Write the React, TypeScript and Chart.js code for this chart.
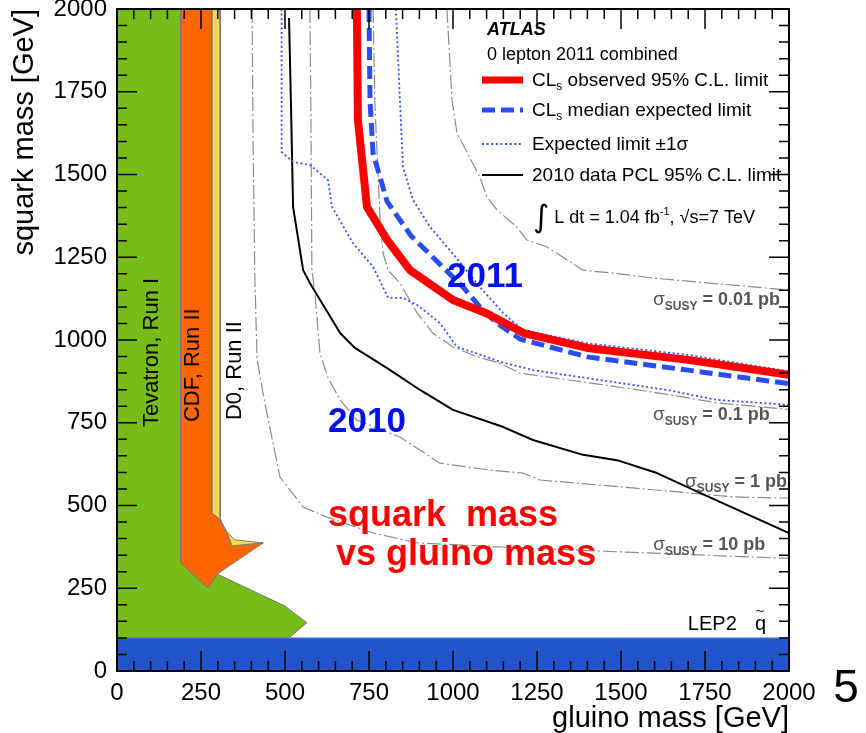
import { useEffect, useRef } from 'react';
import { Chart, registerables } from 'chart.js';

Chart.register(...registerables);

const SANS = '"Liberation Sans", Arial, Helvetica, sans-serif';

// Mass axes (GeV)
const massMin = 0;
const massMax = 2000;
const majorStep = 250;
const minorStep = 50;

// 2011 CLs observed 95% C.L. limit
const observedGluino = [714, 717, 744, 804, 872, 1000, 1101, 1210, 1400, 1700, 2000];
const observedSquark = [2000, 1665, 1402, 1302, 1211, 1121, 1080, 1021, 976, 940, 895];

// 2011 CLs median expected limit
const expectedGluino = [750, 753, 762, 804, 875, 955, 1030, 1080, 1131, 1199, 1400, 1700, 2000];
const expectedSquark = [2000, 1725, 1565, 1418, 1315, 1235, 1160, 1100, 1051, 1003, 949, 909, 868];

// Expected limit +1 sigma
const plusSigmaGluino = [830, 842, 851, 881, 932, 1015, 1080, 1149, 1208, 1400, 1700, 2000];
const plusSigmaSquark = [2000, 1725, 1523, 1423, 1341, 1242, 1160, 1082, 1030, 990, 955, 905];

// Expected limit -1 sigma
const minusSigmaGluino = [490, 490, 524, 574, 628, 640, 702, 762, 807, 851, 893, 961, 1012, 1101, 1140, 1238, 1438, 1637, 1786, 2000];
const minusSigmaSquark = [2000, 1568, 1538, 1529, 1483, 1402, 1293, 1221, 1127, 1127, 1106, 1051, 979, 949, 934, 909, 879, 849, 819, 804];

// 2010 data PCL 95% C.L. limit
const pcl2010Gluino = [512, 518, 524, 554, 574, 664, 708, 804, 902, 1000, 1150, 1238, 1387, 1488, 1607, 1735, 2000];
const pcl2010Squark = [1973, 1700, 1402, 1211, 1172, 1021, 976, 915, 849, 789, 737, 698, 653, 637, 598, 538, 417];

// SUSY cross-section contours
const xsec001Gluino = [982, 997, 1012, 1080, 1101, 1131, 1190, 1220, 1280, 1387, 1497, 1595, 2000];
const xsec001Squark = [2000, 1725, 1625, 1492, 1432, 1393, 1341, 1302, 1281, 1211, 1200, 1187, 1151];

const xsec01Gluino = [762, 768, 783, 792, 807, 842, 893, 940, 1000, 1070, 1140, 1199, 1438, 1637, 1786, 2000];
const xsec01Squark = [2000, 1700, 1363, 1262, 1211, 1172, 1082, 1021, 979, 950, 930, 900, 866, 836, 810, 790];

const xsec1Gluino = [574, 577, 580, 589, 604, 628, 664, 714, 842, 961, 1110, 1208, 1259, 1536, 1833, 2000];
const xsec1Squark = [2000, 1700, 1211, 1142, 961, 886, 819, 758, 707, 628, 607, 598, 577, 553, 526, 522];

const xsec10Gluino = [402, 405, 410, 417, 440, 485, 554, 625, 762, 893, 1200, 1595, 2000];
const xsec10Squark = [2000, 1600, 1200, 940, 810, 586, 495, 465, 417, 387, 372, 356, 340];

// Excluded regions from earlier experiments (polygon vertices)
const lepGluino = [0, 0, 2000, 2000];
const lepSquark = [0, 100, 100, 0];

const tevatronGluino = [0, 0, 190, 190, 271, 298, 500, 565, 512];
const tevatronSquark = [100, 2000, 2000, 326, 251, 293, 196, 146, 100];

const cdfGluino = [190, 283, 283, 306, 331, 342, 435, 298, 271, 190];
const cdfSquark = [2000, 2000, 477, 459, 411, 378, 387, 293, 251, 326];

const d0Gluino = [283, 307, 307, 316, 351, 435, 342, 331, 306, 283];
const d0Squark = [2000, 2000, 465, 432, 396, 387, 378, 411, 459, 477];

// Cross-section labels
const xsecLabels = ['0.01', '0.1', '1', '10'];

const pts = (xs: number[], ys: number[]) => xs.map((x, i) => ({ x, y: ys[i] }));
const closed = (xs: number[], ys: number[]) => {
  const p = pts(xs, ys);
  return [...p, p[0]];
};

const STYLE = {
  observed: { color: '#ff0000', width: 8, dash: [] as number[] },
  expected: { color: '#2b4cf0', width: 5, dash: [13, 6] },
  sigma: { color: '#3050ff', width: 1.8, dash: [2, 2.6] },
  pcl: { color: '#000000', width: 2, dash: [] as number[] },
  xsec: { color: '#8c8c8c', width: 1.2, dash: [14, 3, 2, 3] },
};

function lineSet(label: string, xs: number[], ys: number[], s: { color: string; width: number; dash: number[] }) {
  return {
    label,
    data: pts(xs, ys),
    borderColor: s.color,
    borderWidth: s.width,
    borderDash: s.dash,
    borderCapStyle: 'butt' as const,
    borderJoinStyle: 'round' as const,
    fill: false,
    pointRadius: 0,
    tension: 0,
    clip: 0,
  };
}

function regionSet(label: string, xs: number[], ys: number[], color: string, edge: string) {
  return {
    label,
    data: closed(xs, ys),
    borderColor: edge,
    borderWidth: 1,
    backgroundColor: color,
    fill: 'shape' as const,
    pointRadius: 0,
    tension: 0,
    clip: 0,
  };
}

type Run = { text: string; font: string; dy?: number; color?: string };

function drawRuns(ctx: CanvasRenderingContext2D, x: number, y: number, runs: Run[], align: 'left' | 'right', color: string) {
  ctx.textAlign = 'left';
  ctx.textBaseline = 'alphabetic';
  const widths = runs.map((r) => {
    ctx.font = r.font;
    return ctx.measureText(r.text).width;
  });
  const total = widths.reduce((a, b) => a + b, 0);
  let cx = align === 'right' ? x - total : x;
  runs.forEach((r, i) => {
    ctx.font = r.font;
    ctx.fillStyle = r.color ?? color;
    ctx.fillText(r.text, cx, y + (r.dy ?? 0));
    cx += widths[i];
  });
}

// Inward-pointing major/minor ticks on all four sides plus the frame
const frameTicks = {
  id: 'frameTicks',
  afterDatasetsDraw(chart: any) {
    const { ctx, chartArea: a, scales } = chart;
    const xs = scales.x;
    const ys = scales.y;
    ctx.save();
    ctx.strokeStyle = '#000';
    ctx.lineWidth = 1.5;
    ctx.beginPath();
    for (let v = massMin; v <= massMax; v += minorStep) {
      const len = v % majorStep === 0 ? 20 : 10;
      const px = xs.getPixelForValue(v);
      ctx.moveTo(px, a.bottom);
      ctx.lineTo(px, a.bottom - len);
      ctx.moveTo(px, a.top);
      ctx.lineTo(px, a.top + len);
      const py = ys.getPixelForValue(v);
      ctx.moveTo(a.left, py);
      ctx.lineTo(a.left + len, py);
      ctx.moveTo(a.right, py);
      ctx.lineTo(a.right - len, py);
    }
    ctx.stroke();
    ctx.lineWidth = 2;
    ctx.strokeRect(a.left, a.top, a.right - a.left, a.bottom - a.top);
    ctx.restore();
  },
};

// Text annotations and the legend box
const annotations = {
  id: 'annotations',
  afterDraw(chart: any) {
    const { ctx, chartArea: a, scales } = chart;
    const X = (v: number) => scales.x.getPixelForValue(v);
    const Y = (v: number) => scales.y.getPixelForValue(v);
    ctx.save();

    // vertical labels of the excluded regions
    const vertical: [string, number, number][] = [
      ['Tevatron, Run I', 122, 737],
      ['CDF, Run II', 244, 752],
      ['D0, Run II', 369, 758],
    ];
    ctx.font = `22px ${SANS}`;
    ctx.fillStyle = '#000';
    for (const [t, gx, gy] of vertical) {
      ctx.save();
      ctx.translate(X(gx), Y(gy));
      ctx.rotate(-Math.PI / 2);
      ctx.textAlign = 'left';
      ctx.textBaseline = 'alphabetic';
      ctx.fillText(t, 0, 0);
      ctx.restore();
    }

    // cross-section contour labels
    const xsecAnchor: [number, number][] = [
      [1973, 1106],
      [1943, 758],
      [1994, 556],
      [1929, 366],
    ];
    xsecLabels.forEach((lab, i) => {
      const [gx, gy] = xsecAnchor[i];
      drawRuns(
        ctx,
        X(gx),
        Y(gy),
        [
          { text: '\u03c3', font: `19px ${SANS}` },
          { text: 'SUSY', font: `bold 12px ${SANS}`, dy: 5 },
          { text: ` = ${lab} pb`, font: `bold 18px ${SANS}` },
        ],
        'right',
        '#555555'
      );
    });

    // LEP2 squark limit
    drawRuns(ctx, X(1699), Y(124), [{ text: 'LEP2', font: `20px ${SANS}` }], 'left', '#000');
    drawRuns(ctx, X(1899), Y(124), [{ text: 'q', font: `20px ${SANS}` }], 'left', '#000');
    drawRuns(ctx, X(1901), Y(124) - 14, [{ text: '~', font: `15px ${SANS}` }], 'left', '#000');

    // year labels
    ctx.font = `bold 35px ${SANS}`;
    ctx.fillStyle = '#0010f0';
    ctx.textAlign = 'left';
    ctx.textBaseline = 'alphabetic';
    ctx.fillText('2011', X(982), Y(1160));
    ctx.fillText('2010', X(628), Y(722));

    // headline
    ctx.font = `bold 36px ${SANS}`;
    ctx.fillStyle = '#ff0000';
    ctx.fillText('squark  mass', X(628), Y(438));
    ctx.fillText('vs gluino mass', X(652), Y(320));

    // legend
    const lx = a.left + 365;
    const tx = a.left + 415;
    drawRuns(ctx, lx + 5, a.top + 26, [{ text: 'ATLAS', font: `italic bold 18px ${SANS}` }], 'left', '#000');
    drawRuns(ctx, lx + 5, a.top + 51, [{ text: '0 lepton 2011 combined', font: `18px ${SANS}` }], 'left', '#000');

    const entries: [keyof typeof STYLE, number, Run[]][] = [
      ['observed', 71, [
        { text: 'CL', font: `19px ${SANS}` },
        { text: 's', font: `12px ${SANS}`, dy: 4 },
        { text: ' observed 95% C.L. limit', font: `19px ${SANS}` },
      ]],
      ['expected', 101, [
        { text: 'CL', font: `19px ${SANS}` },
        { text: 's', font: `12px ${SANS}`, dy: 4 },
        { text: ' median expected limit', font: `19px ${SANS}` },
      ]],
      ['sigma', 135, [{ text: 'Expected limit \u00b11\u03c3', font: `19px ${SANS}` }]],
      ['pcl', 166, [{ text: '2010 data PCL 95% C.L. limit', font: `19px ${SANS}` }]],
    ];
    for (const [key, dy, runs] of entries) {
      const s = STYLE[key];
      const y = a.top + dy;
      ctx.save();
      ctx.strokeStyle = s.color;
      ctx.lineWidth = Math.min(s.width, 7);
      ctx.setLineDash(s.dash);
      ctx.beginPath();
      ctx.moveTo(lx, y);
      ctx.lineTo(lx + 41, y);
      ctx.stroke();
      ctx.restore();
      drawRuns(ctx, tx, y + 6, runs, 'left', '#000');
    }

    drawRuns(
      ctx,
      a.left + 416,
      a.top + 214,
      [
        { text: '\u222b', font: `31px "DejaVu Sans", ${SANS}`, dy: 4 },
        { text: ' L dt = 1.04 fb', font: `18px ${SANS}` },
        { text: '-1', font: `11px ${SANS}`, dy: -8 },
        { text: ', \u221as=7 TeV', font: `18px ${SANS}` },
      ],
      'left',
      '#000'
    );

    // page number
    ctx.font = `46px ${SANS}`;
    ctx.fillStyle = '#000';
    ctx.textAlign = 'center';
    ctx.textBaseline = 'alphabetic';
    ctx.fillText('5', 846, 702);

    ctx.restore();
  },
};

export default function App() {
  const ref = useRef<HTMLCanvasElement>(null);

  useEffect(() => {
    const canvas = ref.current;
    if (!canvas) return;
    const tickFont = { family: SANS, size: 24 };
    const chart = new Chart(canvas, {
      type: 'line',
      data: {
        datasets: [
          lineSet('CLs observed 95% C.L. limit', observedGluino, observedSquark, STYLE.observed),
          lineSet('CLs median expected limit', expectedGluino, expectedSquark, STYLE.expected),
          lineSet('Expected limit +1σ', plusSigmaGluino, plusSigmaSquark, STYLE.sigma),
          lineSet('Expected limit -1σ', minusSigmaGluino, minusSigmaSquark, STYLE.sigma),
          lineSet('2010 data PCL 95% C.L. limit', pcl2010Gluino, pcl2010Squark, STYLE.pcl),
          lineSet('σ 0.01 pb', xsec001Gluino, xsec001Squark, STYLE.xsec),
          lineSet('σ 0.1 pb', xsec01Gluino, xsec01Squark, STYLE.xsec),
          lineSet('σ 1 pb', xsec1Gluino, xsec1Squark, STYLE.xsec),
          lineSet('σ 10 pb', xsec10Gluino, xsec10Squark, STYLE.xsec),
          regionSet('LEP2 squark', lepGluino, lepSquark, '#2255cc', '#5f84de'),
          regionSet('D0, Run II', d0Gluino, d0Squark, '#ffd94a', '#777777'),
          regionSet('CDF, Run II', cdfGluino, cdfSquark, '#ff6600', '#777777'),
          regionSet('Tevatron, Run I', tevatronGluino, tevatronSquark, '#78bc19', '#777777'),
        ] as any,
      },
      options: {
        responsive: false,
        devicePixelRatio: 1,
        animation: false,
        events: [],
        layout: { padding: { top: 9, right: 77, left: 0, bottom: 0 } },
        plugins: {
          legend: { display: false },
          tooltip: { enabled: false },
        },
        scales: {
          x: {
            type: 'linear',
            position: 'bottom',
            min: massMin,
            max: massMax,
            afterFit: (s: any) => {
              s.height = 62;
              s.paddingLeft = 0;
              s.paddingRight = 0;
            },
            grid: { display: false, drawTicks: false },
            border: { display: false },
            ticks: {
              stepSize: majorStep,
              autoSkip: false,
              maxRotation: 0,
              padding: 8,
              color: '#000',
              font: tickFont,
              callback: (v: any) => String(v),
            },
            title: {
              display: true,
              text: 'gluino mass [GeV]',
              align: 'end',
              color: '#000',
              font: { family: SANS, size: 29, lineHeight: 1 },
              padding: 0,
            },
          },
          y: {
            type: 'linear',
            position: 'left',
            min: massMin,
            max: massMax,
            afterFit: (s: any) => {
              s.width = 117;
              s.paddingTop = 0;
              s.paddingBottom = 0;
            },
            grid: { display: false, drawTicks: false },
            border: { display: false },
            ticks: {
              stepSize: majorStep,
              autoSkip: false,
              padding: 10,
              color: '#000',
              font: tickFont,
              callback: (v: any) => String(v),
            },
            title: {
              display: true,
              text: 'squark mass [GeV]',
              align: 'end',
              color: '#000',
              font: { family: SANS, size: 29, lineHeight: 1 },
              padding: { top: 10, bottom: 0 },
            },
          },
        },
      } as any,
      plugins: [frameTicks, annotations],
    });
    return () => chart.destroy();
  }, []);

  return (
    <div style={{ position: 'absolute', left: 0, top: 0, width: 866, height: 733, background: '#fff' }}>
      <canvas ref={ref} width={866} height={733} style={{ display: 'block', width: 866, height: 733 }} />
    </div>
  );
}
